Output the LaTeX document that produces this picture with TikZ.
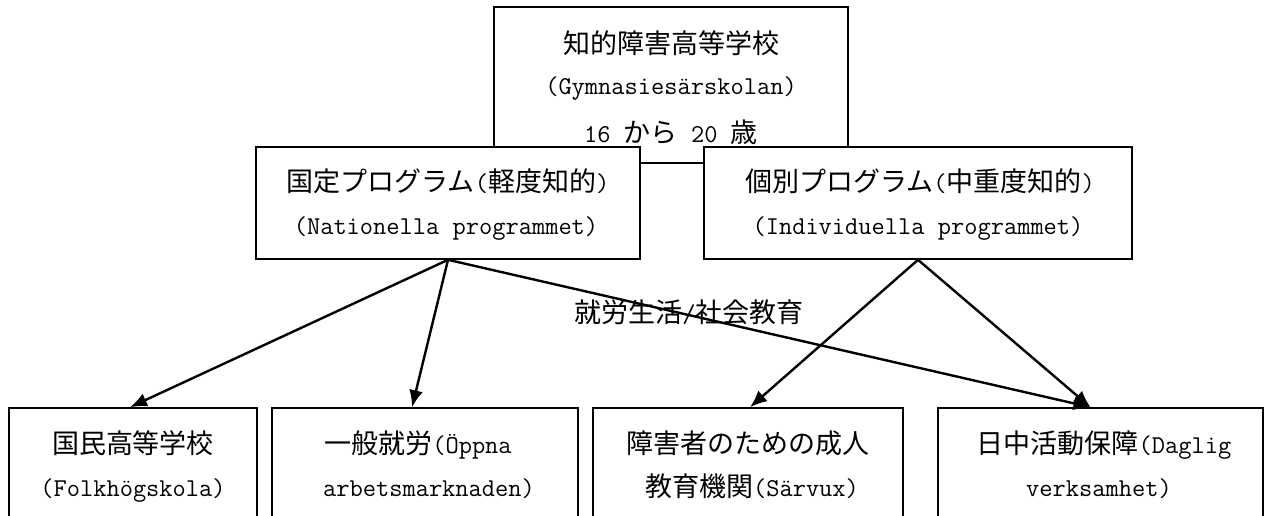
\documentclass[tikz,border=0pt]{standalone}
\usepackage{fontspec}
\newfontfamily\cjk{Noto Sans CJK JP}
\usetikzlibrary{arrows.meta}
\newcommand\J[1]{{\cjk\fontsize{27pt}{30pt}\selectfont #1}}
\tikzset{
  box/.style={draw, line width=1.6pt, fill=white, inner sep=0pt},
  txt/.style={inner sep=0pt, anchor=base, font=\ttfamily\fontsize{25.7pt}{30pt}\selectfont},
  arr/.style={line width=2.4pt, -{Latex[length=17pt,width=14pt]}}
}
\begin{document}
\begin{tikzpicture}[x=1pt,y=-1pt]
\path[use as bounding box] (0,0) rectangle (1272,515);
\clip (0,0) rectangle (1272,515);
% boxes
\node[box, minimum width=354pt, minimum height=156pt] (top) at (671,85) {};
\node[box, minimum width=384pt, minimum height=112pt] (nat) at (448,203) {};
\node[box, minimum width=428pt, minimum height=112pt] (ind) at (918,203) {};
\node[box, minimum width=248pt, minimum height=152pt] (b1) at (133,484) {};
\node[box, minimum width=306pt, minimum height=152pt] (b2) at (425,484) {};
\node[box, minimum width=310pt, minimum height=152pt] (b3) at (748,484) {};
\node[box, minimum width=325pt, minimum height=152pt] (b4) at (1100.5,484) {};
% texts
\node[txt] (t1) at (671,53) {\J{知的障害高等学校}};
\node[txt] (t2) at (671,94.5) {(Gymnasiesärskolan)};
\node[txt] (t3) at (671,142) {16 \J{から} 20 \J{歳}};
\node[txt] (n1) at (448,191) {\J{国定プログラム}(\J{軽度知的})};
\node[txt] (n2) at (446,234.5) {(Nationella programmet)};
\node[txt] (i1) at (920,191) {\J{個別プログラム}(\J{中重度知的})};
\node[txt] (i2) at (918,234.5) {(Individuella programmet)};
\node[txt] (a1) at (133,453) {\J{国民高等学校}};
\node[txt] (a2) at (133,496) {(Folkhögskola)};
\node[txt] (c1) at (418,453) {\J{一般就労}(Öppna};
\node[txt] (c2) at (429,496) {arbetsmarknaden)};
\node[txt] (d1) at (748,453) {\J{障害者のための成人}};
\node[txt] (d2) at (752,496) {\J{教育機関}(Särvux)};
\node[txt] (e1) at (1104,453) {\J{日中活動保障}(Daglig};
\node[txt] (e2) at (1099,496) {verksamhet)};
\node[txt] (lab) at (689,322) {\J{就労生活}/\J{社会教育}};
% arrows
\draw[arr] (nat.south) -- ([xshift=-3pt]b1.north);
\draw[arr] (nat.south) -- ([xshift=-13pt]b2.north);
\draw[arr] (nat.south) -- ([xshift=-10pt]b4.north);
\draw[arr] (ind.south) -- ([xshift=2pt]b3.north);
\draw[arr] (ind.south) -- ([xshift=-10pt]b4.north);
\end{tikzpicture}
\end{document}
